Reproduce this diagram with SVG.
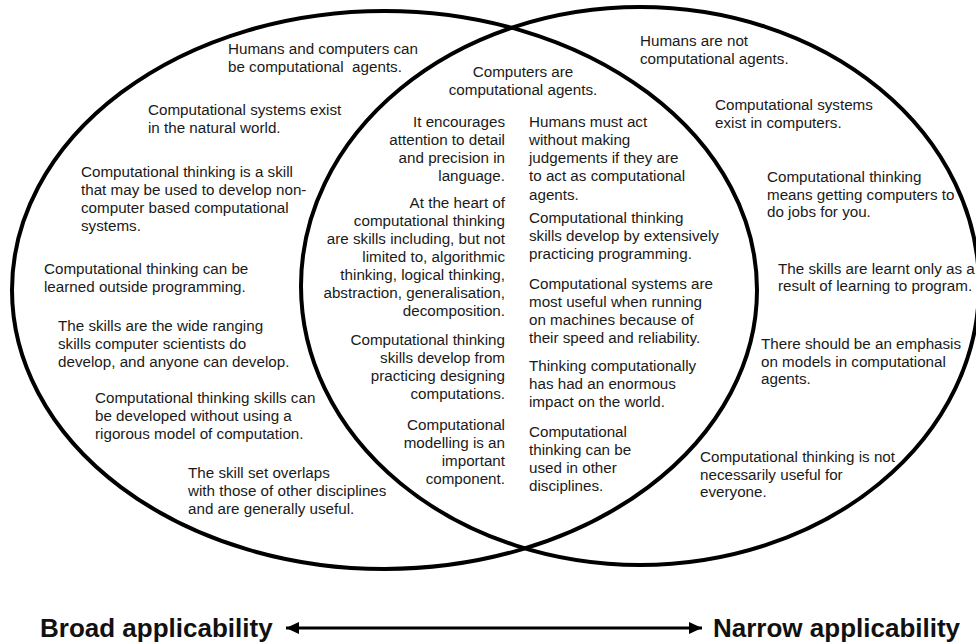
<svg xmlns="http://www.w3.org/2000/svg" width="976" height="644" viewBox="0 0 976 644">
<style>
.t{font-family:"Liberation Sans",Arial,sans-serif;font-size:15.2px;fill:#1a1a1a}
.e{text-anchor:end}
.b{font-family:"Liberation Sans",Arial,sans-serif;font-size:26px;font-weight:bold;fill:#111}
.ring{fill:none;stroke:#000;stroke-width:4}
</style>
<defs>
<marker id="ah" viewBox="0 0 13 12" refX="13" refY="6" markerWidth="13" markerHeight="12" markerUnits="userSpaceOnUse" orient="auto-start-reverse">
<path d="M0,0 L13,6 L0,12 Z" fill="#000"/>
</marker>
</defs>
<rect width="976" height="644" fill="#fff"/>
<g id="sets">
<ellipse id="broad-set" class="ring" cx="384.5" cy="290" rx="372.5" ry="279"/>
<ellipse id="narrow-set" class="ring" cx="640" cy="286" rx="339" ry="279"/>
</g>
<g id="broad-only">
<g id="n1"><text class="t" x="228" y="54" xml:space="preserve">Humans and computers can<tspan x="228" y="72">be computational  agents.</tspan></text></g>
<g id="n2"><text class="t" x="148" y="115">Computational systems exist<tspan x="148" y="133">in the natural world.</tspan></text></g>
<g id="n3"><text class="t" x="81" y="177">Computational thinking is a skill<tspan x="81" y="195">that may be used to develop non-</tspan><tspan x="81" y="213">computer based computational</tspan><tspan x="81" y="231">systems.</tspan></text></g>
<g id="n4"><text class="t" x="44" y="274">Computational thinking can be<tspan x="44" y="292">learned outside programming.</tspan></text></g>
<g id="n5"><text class="t" x="58" y="331">The skills are the wide ranging<tspan x="58" y="349">skills computer scientists do</tspan><tspan x="58" y="367">develop, and anyone can develop.</tspan></text></g>
<g id="n6"><text class="t" x="95" y="403">Computational thinking skills can<tspan x="95" y="421">be developed without using a</tspan><tspan x="95" y="439">rigorous model of computation.</tspan></text></g>
<g id="n7"><text class="t" x="188" y="478">The skill set overlaps<tspan x="188" y="496">with those of other disciplines</tspan><tspan x="188" y="514">and are generally useful.</tspan></text></g>
</g>
<g id="overlap">
<g id="n8"><text class="t" text-anchor="middle" x="523" y="77">Computers are<tspan x="523" y="95">computational agents.</tspan></text></g>
<g id="n9"><text class="t e" x="505" y="126.5">It encourages<tspan x="505" y="144.5">attention to detail</tspan><tspan x="505" y="162.5">and precision in</tspan><tspan x="505" y="180.5">language.</tspan></text></g>
<g id="n10"><text class="t e" x="505" y="207.5">At the heart of<tspan x="505" y="225.5">computational thinking</tspan><tspan x="505" y="243.5">are skills including, but not</tspan><tspan x="505" y="261.5">limited to, algorithmic</tspan><tspan x="505" y="279.5">thinking, logical thinking,</tspan><tspan x="505" y="297.5">abstraction, generalisation,</tspan><tspan x="505" y="315.5">decomposition.</tspan></text></g>
<g id="n11"><text class="t e" x="505" y="345">Computational thinking<tspan x="505" y="363">skills develop from</tspan><tspan x="505" y="381">practicing designing</tspan><tspan x="505" y="399">computations.</tspan></text></g>
<g id="n12"><text class="t e" x="505" y="430">Computational<tspan x="505" y="448">modelling is an</tspan><tspan x="505" y="466">important</tspan><tspan x="505" y="484">component.</tspan></text></g>
<g id="n13"><text class="t" x="529" y="126.5">Humans must act<tspan x="529" y="144.5">without making</tspan><tspan x="529" y="162.5">judgements if they are</tspan><tspan x="529" y="180.5">to act as computational</tspan><tspan x="529" y="199.5">agents.</tspan></text></g>
<g id="n14"><text class="t" x="529" y="222.5">Computational thinking<tspan x="529" y="240.5">skills develop by extensively</tspan><tspan x="529" y="258.5">practicing programming.</tspan></text></g>
<g id="n15"><text class="t" x="529" y="289">Computational systems are<tspan x="529" y="307">most useful when running</tspan><tspan x="529" y="325">on machines because of</tspan><tspan x="529" y="343">their speed and reliability.</tspan></text></g>
<g id="n16"><text class="t" x="529" y="371">Thinking computationally<tspan x="529" y="389">has had an enormous</tspan><tspan x="529" y="407">impact on the world.</tspan></text></g>
<g id="n17"><text class="t" x="529" y="437">Computational<tspan x="529" y="455">thinking can be</tspan><tspan x="529" y="473">used in other</tspan><tspan x="529" y="491">disciplines.</tspan></text></g>
</g>
<g id="narrow-only">
<g id="n18"><text class="t" x="640" y="46">Humans are not<tspan x="640" y="64">computational agents.</tspan></text></g>
<g id="n19"><text class="t" x="715" y="110">Computational systems<tspan x="715" y="128">exist in computers.</tspan></text></g>
<g id="n20"><text class="t" x="767" y="181.5">Computational thinking<tspan x="767" y="199.5">means getting computers to</tspan><tspan x="767" y="217">do jobs for you.</tspan></text></g>
<g id="n21"><text class="t" x="778" y="273.5">The skills are learnt only as a<tspan x="778" y="291">result of learning to program.</tspan></text></g>
<g id="n22"><text class="t" x="761" y="348.5">There should be an emphasis<tspan x="761" y="366.5">on models in computational</tspan><tspan x="761" y="384">agents.</tspan></text></g>
<g id="n23"><text class="t" x="700" y="461.5">Computational thinking is not<tspan x="700" y="479.5">necessarily useful for</tspan><tspan x="700" y="497">everyone.</tspan></text></g>
</g>
<g id="connectors">
<line x1="286" y1="628" x2="702" y2="628" stroke="#000" stroke-width="3" marker-start="url(#ah)" marker-end="url(#ah)"/>
</g>
<g id="broad-label"><text class="b" x="40" y="637">Broad applicability</text></g>
<g id="narrow-label"><text class="b" x="713" y="637">Narrow applicability</text></g>
</svg>
